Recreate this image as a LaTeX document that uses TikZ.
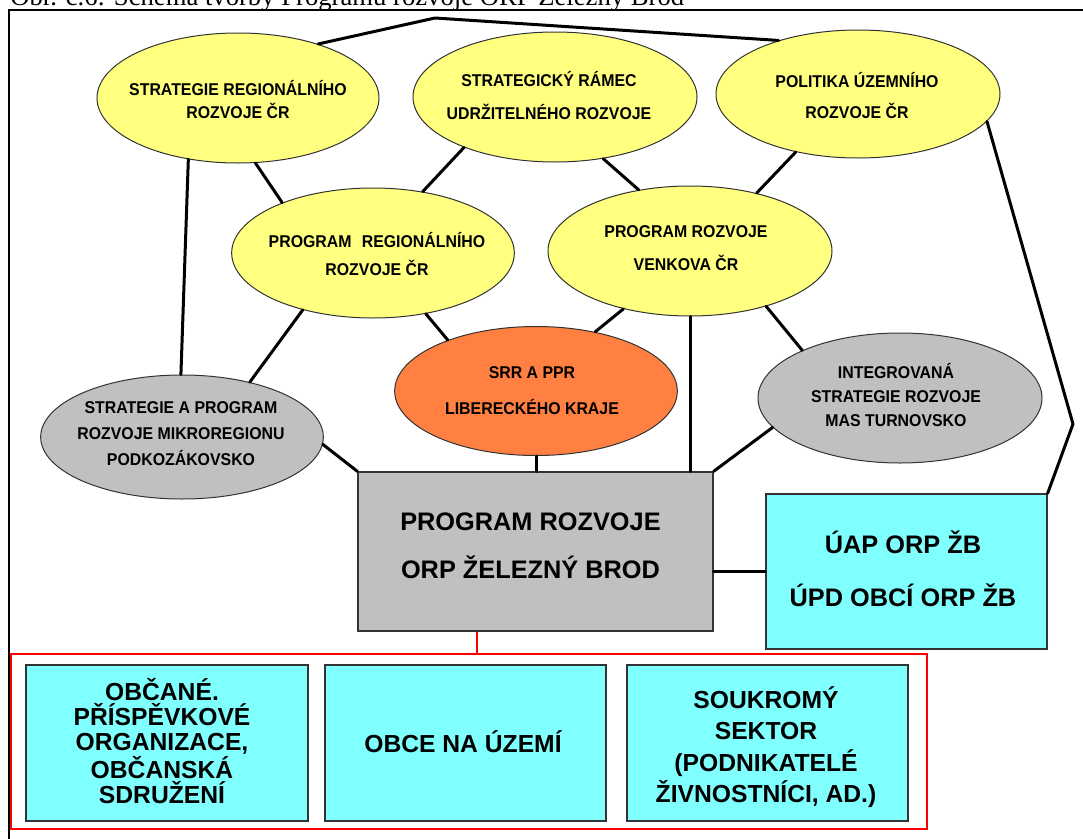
\documentclass[tikz,border=0pt]{standalone}
\usepackage{fontspec}
\setmainfont{Liberation Sans}
\newfontfamily\titlefont{Liberation Serif}
\newfontfamily\ellfont[FakeStretch=0.93]{Liberation Sans}
\usetikzlibrary{shapes.geometric,calc}
\definecolor{ellyellow}{HTML}{FFFF80}
\definecolor{ellorange}{HTML}{FF8040}
\definecolor{ellgrey}{HTML}{C0C0C0}
\definecolor{boxcyan}{HTML}{80FFFF}
\definecolor{edgecol}{HTML}{333333}
\begin{document}
\begin{tikzpicture}[x=0.75pt,y=-0.75pt,
  ell/.style={ellipse, draw=edgecol, line width=0.75pt, inner sep=0pt,
    minimum width=213pt, minimum height=97.5pt},
  etext/.style={align=center, inner sep=0pt,
    font=\ellfont\bfseries\fontsize{12.8}{#1}\selectfont},
  etext/.default=18,
  boxnode/.style={rectangle, draw=edgecol, line width=1pt, inner sep=0pt},
  btext/.style={align=center, inner sep=0pt,
    font=\bfseries\fontsize{18.5}{#1}\selectfont},
  btext/.default=22,
  conn/.style={line width=2.25pt, black, line cap=round, line join=round},
]
\useasboundingbox (0,0) rectangle (1083,839);
\clip (0,0) rectangle (1083,839);
\fill[white] (0,0) rectangle (1083,839);

% title (cut by the top edge, as in the reference)
\node[anchor=base west, inner sep=0pt, font=\titlefont\fontsize{20}{24}\selectfont]
  (title) at (10,5) {Obr. č.6: Schéma tvorby Programu rozvoje ORP Železný Brod};

% outer frame
\coordinate (frtr) at (1090,10);
\coordinate (frtl) at (9,10);
\coordinate (frbl) at (9,850);
\draw[line width=2pt] (frtr) -- (frtl) -- (frbl);

% ellipses
\node[ell, fill=ellyellow, minimum width=211.5pt] (srr) at (238,98) {};
\node[ell, fill=ellyellow] (sru) at (555,97) {};
\node[ell, fill=ellyellow, minimum height=96pt] (pol) at (858,94) {};
\node[ell, fill=ellyellow, minimum width=212pt] (prr) at (373,253) {};
\node[ell, fill=ellyellow] (prv) at (690,251) {};
\node[ell, fill=ellorange, minimum width=212pt, minimum height=96.75pt] (kraj) at (536,391) {};
\node[ell, fill=ellgrey, minimum width=212pt, minimum height=93pt] (spm) at (182,437) {};
\node[ell, fill=ellgrey] (mas) at (900,398) {};

% boxes
\node[boxnode, fill=ellgrey, minimum width=266.25pt, minimum height=119.25pt] (orp) at (535.5,551.5) {};
\node[boxnode, fill=boxcyan, minimum width=210.75pt, minimum height=116.25pt] (uap) at (906.5,571.5) {};
\node[rectangle, draw=red, line width=1.5pt, minimum width=687pt, minimum height=131.25pt, inner sep=0pt] (grp) at (469,741.5) {};
\node[boxnode, fill=boxcyan, minimum width=211.5pt, minimum height=117pt] (b1) at (167,743) {};
\node[boxnode, fill=boxcyan, minimum width=210.75pt, minimum height=117pt] (b2) at (465.5,743) {};
\node[boxnode, fill=boxcyan, minimum width=210.75pt, minimum height=117pt] (b3) at (767.5,743) {};

% connectors
\coordinate (ctop) at (435,18);
\coordinate (cright) at (1073,424);
\draw[conn] (srr.34) -- (ctop) -- (pol.146);
\draw[conn] (pol.-12.6) -- (cright) -- (uap.north east);
\draw[conn] (srr.231) -- (spm.91);
\draw[conn] (srr.-75) -- (prr.151);
\draw[conn] (sru.209.5) -- (prr.51);
\draw[conn] (sru.-52.7) -- (prv.130);
\draw[conn] (pol.223.6) -- (prv.41);
\draw[conn] (prr.219.7) -- (spm.39);
\draw[conn] (prr.-49) -- (kraj.150);
\draw[conn] (prv.221.4) -- (kraj.45);
\draw[conn] (prv.south) -- (prv.south |- orp.north);
\draw[conn] (prv.-36.7) -- (mas.154);
\draw[conn] (kraj.south) -- (kraj.south |- orp.north);
\draw[conn] (spm.-3) -- (orp.north west);
\draw[conn] (mas.193) -- (orp.north east);
\draw[conn] (uap.west) -- (uap.west -| orp.east);
\coordinate (rtop) at ($(orp.south west)!0.335!(orp.south east)$);
\draw[red, line width=1.5pt] (rtop) -- (rtop |- grp.north);

% ellipse texts
\node[etext=17.25] (srrt) at (238,100) {STRATEGIE REGIONÁLNÍHO\\ROZVOJE ČR};
\node[etext=24.75] (srut) at (549,96) {STRATEGICKÝ RÁMEC\\UDRŽITELNÉHO ROZVOJE};
\node[etext=23.25] (polt) at (857,96) {POLITIKA ÚZEMNÍHO\\ROZVOJE ČR};
\node[etext=20.6] (prrt) at (377,254) {PROGRAM\hspace{0.6em}REGIONÁLNÍHO\\ROZVOJE ČR};
\node[etext=24.75] (prvt) at (686,248) {PROGRAM ROZVOJE\\VENKOVA ČR};
\node[etext=27] (krajt) at (532,391) {SRR A PPR\\LIBERECKÉHO KRAJE};
\node[etext=19.5] (spmt) at (181,434) {STRATEGIE A PROGRAM\\ROZVOJE MIKROREGIONU\\PODKOZÁKOVSKO};
\node[etext=18] (mast) at (896,395) {INTEGROVANÁ\\STRATEGIE ROZVOJE\\MAS TURNOVSKO};

% box texts
\node[btext=36.4, font=\bfseries\fontsize{19}{36.4}\selectfont] (orpt) at (530.5,546) {PROGRAM ROZVOJE\\ORP ŽELEZNÝ BROD};
\node[btext=39.75, font=\bfseries\fontsize{19}{39.75}\selectfont] (uapt) at (903,569) {ÚAP ORP ŽB\\ÚPD OBCÍ ORP ŽB};
\node[btext=19] (b1t) at (162,741) {OBČANÉ.\\PŘÍSPĚVKOVÉ\\ORGANIZACE,\\OBČANSKÁ\\SDRUŽENÍ};
\node[btext] (b2t) at (463,742) {OBCE NA ÚZEMÍ};
\node[btext=23.6] (b3t) at (766,747) {SOUKROMÝ\\SEKTOR\\(PODNIKATELÉ\\ŽIVNOSTNÍCI, AD.)};
\end{tikzpicture}
\end{document}
